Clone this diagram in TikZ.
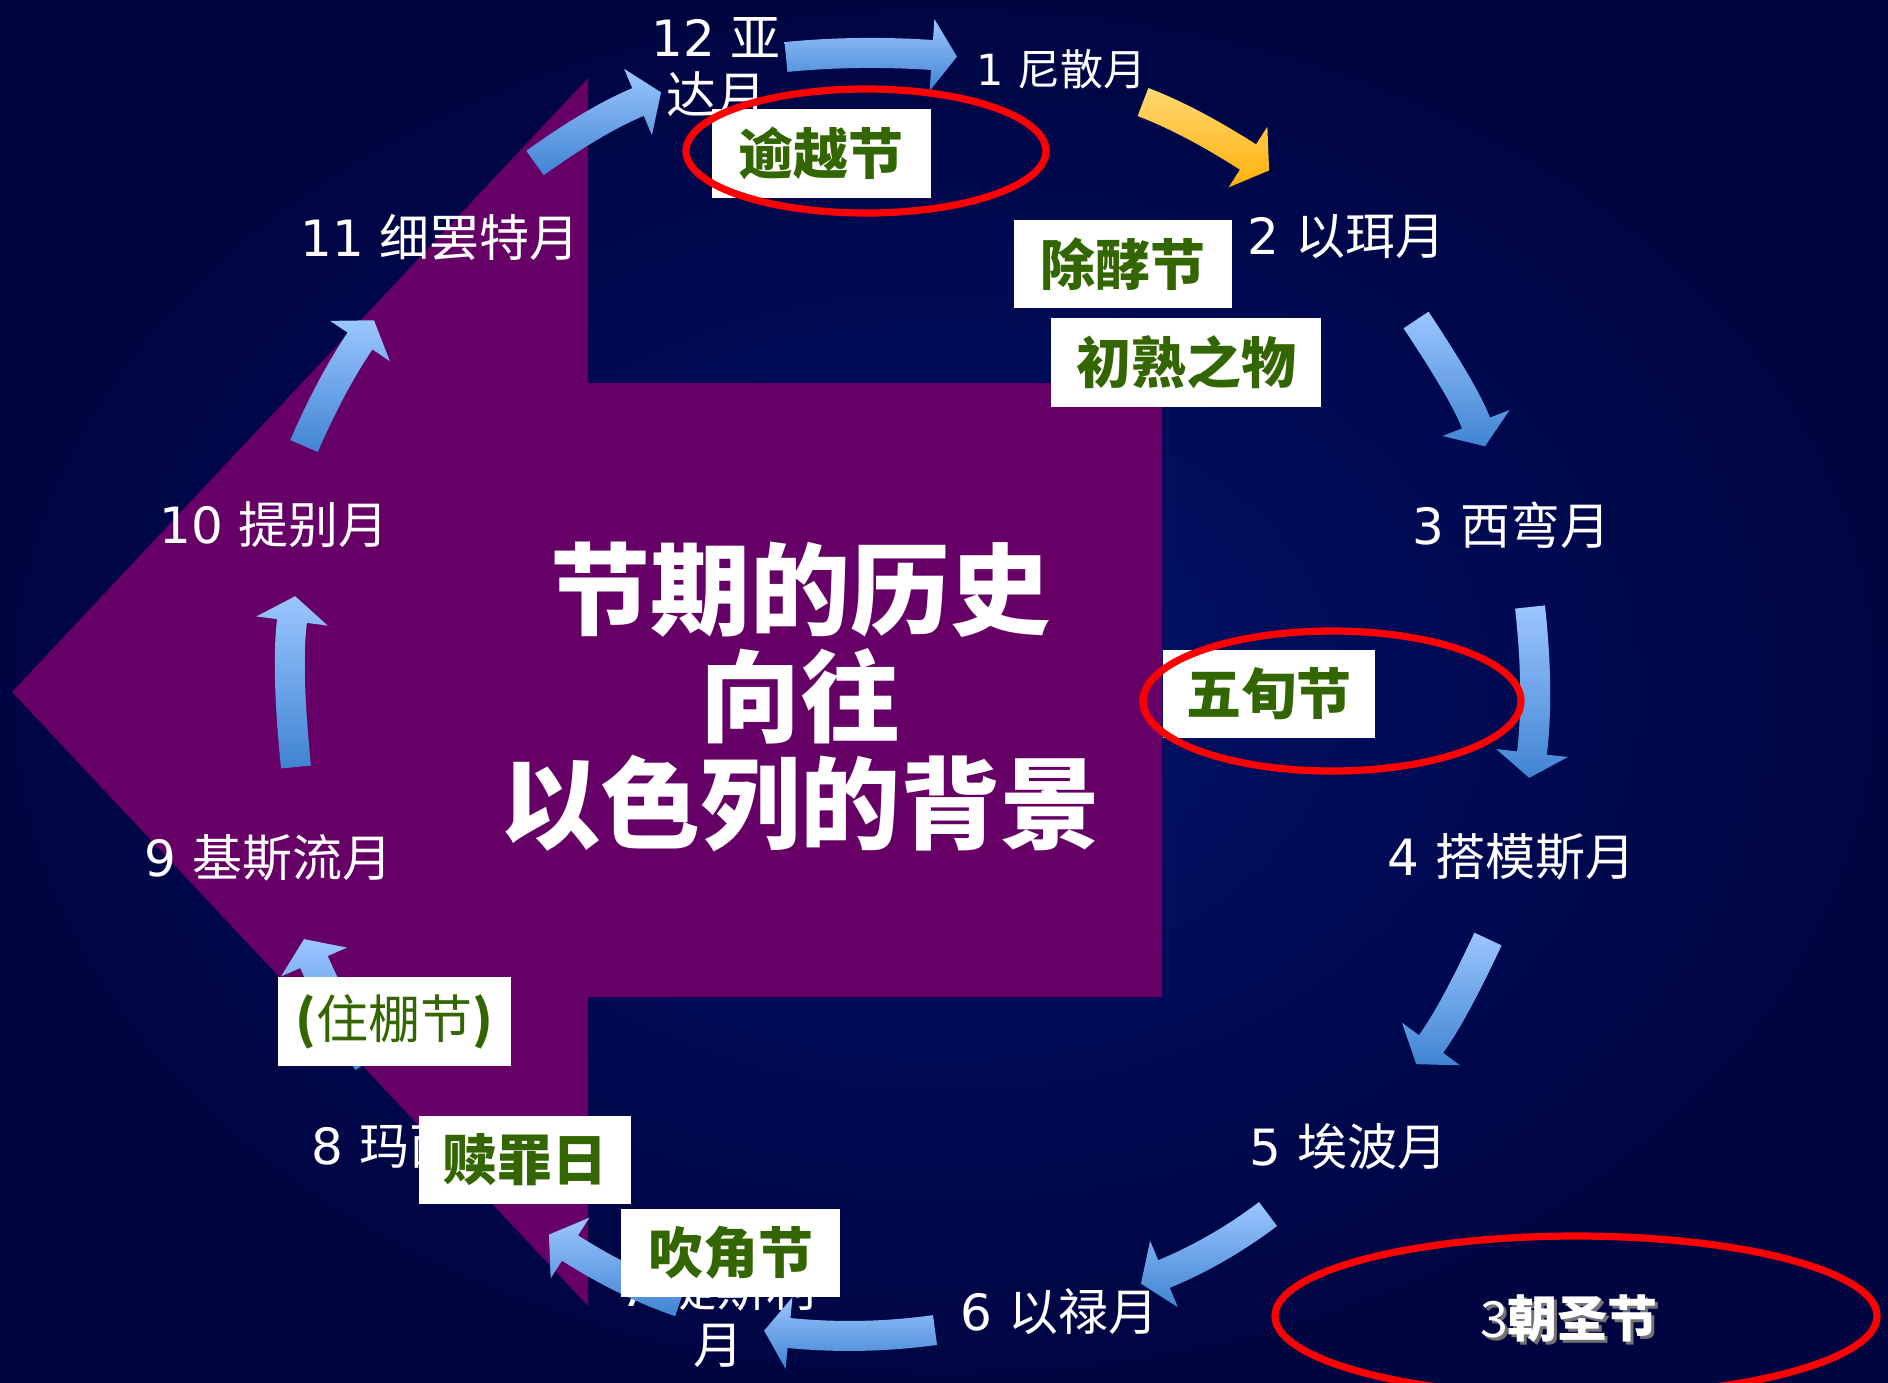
\documentclass[tikz,border=0pt]{standalone}
\usepackage{fontspec}
\usetikzlibrary{calc}
\newfontfamily\cjk{Noto Sans CJK SC}
\newfontfamily\dv{DejaVu Sans}
\definecolor{bgin}{RGB}{0,18,106}
\definecolor{bgout}{RGB}{0,5,66}
\definecolor{purp}{RGB}{102,0,102}
\definecolor{arrtop}{RGB}{155,198,255}
\definecolor{arrbot}{RGB}{64,132,210}
\definecolor{orgtop}{RGB}{255,216,115}
\definecolor{orgbot}{RGB}{255,176,8}
\definecolor{fgreen}{RGB}{51,102,0}
\newcommand\arrW{7.5pt}
\newcommand\arrH{18pt}
\newcommand\arrL{12.5pt}
% #1 start, #2 control, #3 head-base centre, #4 shading style
\newcommand\festarrow[4]{%
  \coordinate (aS) at #1;
  \coordinate (aC) at #2;
  \coordinate (aE) at #3;
  \coordinate (aSL) at ($(aS)!\arrW!90:(aC)$);
  \coordinate (aSR) at ($(aS)!\arrW!-90:(aC)$);
  \coordinate (aEL) at ($(aE)!\arrW!-90:(aC)$);
  \coordinate (aER) at ($(aE)!\arrW!90:(aC)$);
  \coordinate (aHL) at ($(aE)!\arrH!-90:(aC)$);
  \coordinate (aHR) at ($(aE)!\arrH!90:(aC)$);
  \coordinate (aT) at ($(aE)!\arrL!180:(aC)$);
  \coordinate (aSLd) at ($(aSL)+(aC)-(aS)$);
  \coordinate (aELd) at ($(aEL)+(aC)-(aE)$);
  \coordinate (aSRd) at ($(aSR)+(aC)-(aS)$);
  \coordinate (aERd) at ($(aER)+(aC)-(aE)$);
  \coordinate (aCL) at (intersection of aSL--aSLd and aEL--aELd);
  \coordinate (aCR) at (intersection of aSR--aSRd and aER--aERd);
  \shade[#4] (aSL) .. controls ($(aSL)!0.6667!(aCL)$) and ($(aEL)!0.6667!(aCL)$) .. (aEL)
    -- (aHL) -- (aT) -- (aHR) -- (aER)
    .. controls ($(aER)!0.6667!(aCR)$) and ($(aSR)!0.6667!(aCR)$) .. (aSR) -- cycle;
}
\begin{document}
\begin{tikzpicture}[x=0.5pt,y=-0.5pt,
  month/.style={text=white,inner sep=0pt,font=\cjk\fontsize{25}{28.5}\selectfont},
  festbox/.style={fill=white,text=fgreen,inner sep=0pt,font=\cjk\bfseries\fontsize{27.5}{30}\selectfont},
  bluearrow/.style={top color=arrtop,bottom color=arrbot},
  orangearrow/.style={top color=orgtop,bottom color=orgbot},
  redring/.style={draw=red,line width=3.6pt}]
\useasboundingbox (0,0) rectangle (1888,1382);
\shade[inner color=bgin,outer color=bgout] (0,0) rectangle (1888,1382);
% big purple arrow
\fill[purp] (12,692) -- (588,78) -- (588,383) -- (1162,383) -- (1162,997) -- (588,997) -- (588,1306) -- cycle;
% title
\node[text=white,align=center,inner sep=0pt,font=\cjk\bfseries\fontsize{50}{53.5}\selectfont] (title) at (800,697) {节期的历史\\向往\\以色列的背景};
% month labels
\node[month,align=center] (m12) at (716,68) {{\dv 12 }亚\\达月};
\node[month,anchor=west,font=\cjk\fontsize{21.5}{25}\selectfont] (m1) at (976,69) {{\dv 1 }尼散月};
\node[month,anchor=west] (m2) at (1247,237) {{\dv 2 }以珥月};
\node[month,anchor=west] (m3) at (1412,525) {{\dv 3 }西弯月};
\node[month,anchor=west] (m4) at (1387,857) {{\dv 4 }搭模斯月};
\node[month,anchor=west] (m5) at (1249,1147) {{\dv 5 }埃波月};
\node[month,anchor=west] (m6) at (960,1312) {{\dv 6 }以禄月};
\node[month,align=center] (m7) at (718,1316) {{\dv 7 }提斯利\\月};
\node[month,anchor=west] (m8) at (311,1146) {{\dv 8 }玛西班月};
\node[month,anchor=west] (m9) at (144,858) {{\dv 9 }基斯流月};
\node[month,anchor=west] (m10) at (159,525) {{\dv 10 }提别月};
\node[month,anchor=west] (m11) at (300,237) {{\dv 11 }细罢特月};
% arrows
\festarrow{(786,57)}{(857,50)}{(932,55)}{bluearrow}
\festarrow{(1143,102)}{(1190,120)}{(1248,157)}{orangearrow}
\festarrow{(1416,320)}{(1464,392)}{(1476,423)}{bluearrow}
\festarrow{(1530,607)}{(1539,690)}{(1532,753)}{bluearrow}
\festarrow{(1488,939)}{(1453,1014)}{(1431,1044)}{bluearrow}
\festarrow{(1268,1214)}{(1219,1251)}{(1164,1274)}{bluearrow}
\festarrow{(935,1330)}{(862,1340)}{(789,1333)}{bluearrow}
\festarrow{(680,1302)}{(625,1283)}{(570,1248)}{bluearrow}
\festarrow{(368,1062)}{(335,1010)}{(314,962)}{bluearrow}
\festarrow{(296,767)}{(286,668)}{(292,621)}{bluearrow}
\festarrow{(304,446)}{(331,384)}{(360,341)}{bluearrow}
\festarrow{(535,163)}{(595,120)}{(638,102)}{bluearrow}
% feast boxes
\node[festbox,minimum width=109.5pt,minimum height=44.5pt] (passover) at (821,153) {逾越节};
\node[festbox,minimum width=109pt,minimum height=44pt] (unleavened) at (1123,264) {除酵节};
\node[festbox,minimum width=135pt,minimum height=44.5pt] (firstfruits) at (1186,362) {初熟之物};
\node[festbox,minimum width=106pt,minimum height=44pt] (pentecost) at (1269,694) {五旬节};
\node[festbox,font=\cjk\fontsize{26}{30}\selectfont,minimum width=116.5pt,minimum height=44.5pt] (tabernacles) at (394.5,1021.5) {{\bfseries(}住棚节{\bfseries)}};
\node[festbox,minimum width=106pt,minimum height=44pt] (atonement) at (525,1160) {赎罪日};
\node[festbox,minimum width=109.5pt,minimum height=44pt] (trumpets) at (730.5,1253) {吹角节};
% red rings
\draw[redring] (866,151) ellipse [x radius=90pt,y radius=31pt];
\draw[redring] (1332,701) ellipse [x radius=94.5pt,y radius=35pt];
\draw[redring] (1576,1316) ellipse [x radius=150.5pt,y radius=40pt];
% pilgrim feasts
\node[text=black!55,inner sep=0pt,font=\cjk\fontsize{25}{30}\selectfont] (pilgshadow) at (1572,1321) {3{\bfseries 朝圣节}};
\node[text=white,inner sep=0pt,font=\cjk\fontsize{25}{30}\selectfont] (pilgrim) at (1569,1318) {3{\bfseries 朝圣节}};
\end{tikzpicture}
\end{document}
